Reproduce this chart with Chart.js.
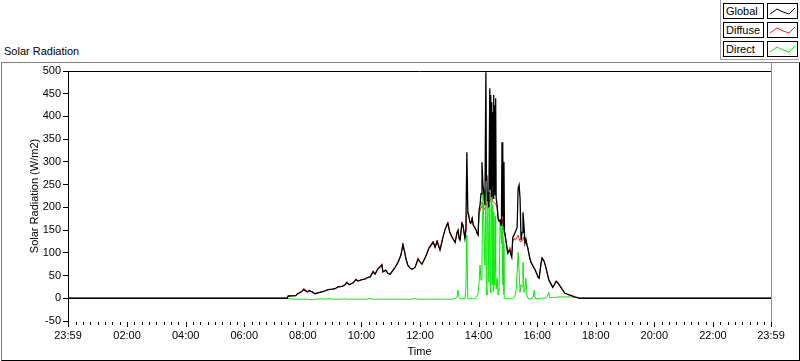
<!DOCTYPE html>
<html>
<head>
<meta charset="utf-8">
<script src="https://cdn.jsdelivr.net/npm/chart.js@4/dist/chart.umd.min.js"></script>
<style>
    body { margin: 0; width: 800px; height: 361px; position: relative; background: #fff; overflow: hidden;
           font-family: 'Liberation Sans', Arial, sans-serif; color: #000; }
    #moldura { position: absolute; left: 1px; top: 62px; width: 797px; height: 297px;
               border-left: 1px solid #808080; border-top: 1px solid #808080;
               border-right: 1px solid #000; border-bottom: 1px solid #000; }
    #titulo { position: absolute; left: 4px; top: 45px; font-size: 11px; line-height: 13px; }
    #grafico { position: absolute; left: 0; top: 0; }
    #legenda { position: absolute; left: 720px; top: 0; width: 79px; height: 60px;
               border-left: 1px solid #a0a0a0; border-bottom: 1px solid #a0a0a0; box-sizing: border-box; }
    .rotulo { position: absolute; left: 2px; width: 41px; height: 16px; box-sizing: border-box;
              border: 1px solid #000; font-size: 11px; line-height: 14px; padding-left: 2px; background: #fff; }
    .amostra { position: absolute; left: 46px; width: 31px; height: 16px; box-sizing: border-box;
               border: 1px solid #000; background: #fff; }
    .amostra svg { position: absolute; left: 0; top: 0; }
</style>
</head>
<body>
<div id="moldura"></div>
<div id="titulo">Solar Radiation</div>
<canvas id="grafico" width="800" height="361"></canvas>
<div id="legenda"></div>

<script>
// --- DADOS ---
const horas = [
    '00:00', '07:28', '07:30', '07:46', '07:48', '07:58', '08:02', '08:09', '08:13', '08:19',
    '08:25', '08:31', '08:39', '08:45', '08:52', '09:00', '09:06', '09:12', '09:20', '09:26',
    '09:30', '09:35', '09:43', '09:49', '09:53', '10:01', '10:07', '10:11', '10:18', '10:24',
    '10:28', '10:34', '10:38', '10:42', '10:44', '10:50', '10:54', '10:59', '11:05', '11:09',
    '11:15', '11:21', '11:25', '11:29', '11:31', '11:35', '11:40', '11:44', '11:50', '11:56',
    '12:00', '12:04', '12:10', '12:14', '12:18', '12:23', '12:27', '12:31', '12:35', '12:41',
    '12:47', '12:51', '12:55', '12:57', '13:01', '13:06', '13:12', '13:16', '13:18', '13:20',
    '13:22', '13:26', '13:28', '13:32',
    '13:34', '13:36', '13:38', '13:40', '13:42', '13:44', '13:47', '13:49', '13:51', '13:53',
    '13:55', '13:57', '13:59', '14:01', '14:03', '14:05', '14:07', '14:09', '14:11', '14:13',
    '14:15', '14:16', '14:17', '14:18', '14:19', '14:21', '14:23', '14:24', '14:25', '14:26',
    '14:27', '14:28', '14:29', '14:30', '14:31', '14:32', '14:33', '14:34', '14:35', '14:36',
    '14:38', '14:40', '14:42', '14:44', '14:46', '14:47', '14:48', '14:49', '14:50', '14:51',
    '14:52', '14:53', '14:54', '14:56', '14:58', '15:00', '15:02', '15:04', '15:06', '15:08',
    '15:10', '15:13', '15:15', '15:17', '15:19', '15:21', '15:23', '15:25', '15:27', '15:29',
    '15:31', '15:33', '15:35', '15:37', '15:39', '15:41', '15:43', '15:45',
    '15:47', '15:52', '15:54', '15:56', '16:00', '16:02', '16:04', '16:08', '16:10', '16:14',
    '16:16', '16:20', '16:24', '16:26', '16:32', '16:39', '16:43', '16:51', '16:57', '17:07',
    '17:17', '17:28', '23:59'
];

const radGlobal = [
    0, 0, 5, 6, 9, 15, 19, 14, 17, 14,
    10, 12, 14, 16, 19, 20, 21, 25, 26, 29,
    34, 30, 34, 41, 38, 41, 42, 45, 47, 58,
    53, 65, 69, 73, 58, 62, 55, 53, 62, 68,
    79, 95, 117, 100, 88, 73, 66, 64, 68, 86,
    80, 75, 88, 98, 110, 117, 123, 112, 125, 106,
    134, 150, 161, 165, 145, 134, 123, 145, 150, 132,
    128, 165, 161, 132,
    150, 321, 189, 182, 168, 165, 176, 161, 158, 154,
    150, 143, 139, 194, 205, 230, 299, 249, 230, 205,
    497, 260, 270, 215, 233, 200, 462, 240, 447, 225,
    431, 250, 409, 220, 447, 235, 425, 228, 440, 220,
    205, 176, 170, 172, 161, 200, 343, 180, 330, 160,
    300, 145, 140, 128, 112, 99, 104, 106, 96, 90,
    134, 140, 145, 150, 156, 242, 249, 220, 128, 145,
    189, 160, 121, 130, 117, 110, 99, 88,
    80, 70, 66, 62, 52, 46, 44, 77, 88, 82,
    75, 58, 40, 36, 24, 37, 33, 20, 11, 7,
    3, 0, 0
];

const radDifusa = [
    0, 0, 5, 6, 9, 15, 22, 14, 17, 14,
    10, 12, 14, 16, 19, 20, 21, 25, 26, 29,
    37, 30, 34, 43, 38, 41, 42, 45, 47, 61,
    53, 65, 69, 76, 58, 62, 55, 53, 62, 68,
    79, 95, 121, 100, 88, 73, 66, 64, 68, 89,
    80, 75, 88, 98, 110, 120, 126, 112, 128, 106,
    134, 150, 161, 168, 145, 134, 123, 145, 150, 132,
    128, 168, 161, 132,
    148, 185, 189, 182, 168, 165, 178, 161, 158, 154,
    150, 143, 139, 185, 192, 200, 212, 205, 198, 195,
    215, 205, 208, 200, 210, 200, 222, 215, 218, 212,
    225, 215, 215, 212, 212, 210, 210, 208, 207, 205,
    200, 176, 170, 172, 160, 170, 176, 172, 165, 158,
    150, 142, 140, 128, 112, 100, 105, 112, 100, 95,
    125, 132, 128, 130, 135, 139, 132, 125, 124, 128,
    135, 130, 121, 130, 120, 110, 99, 88,
    80, 70, 66, 62, 52, 46, 44, 77, 91, 82,
    75, 58, 40, 36, 24, 39, 33, 20, 11, 7,
    3, 0, 0
];

const radDireta = [
    0, 0, -1, -2, -2, -2, -2, -2, -3, -3,
    -2, -2, -1, -2, -1, -2, -2, -2, -2, -1,
    -2, -2, -2, -2, -2, -2, -2, -2, -1, -2,
    -2, -2, -2, -2, -2, -2, -2, -2, -2, -2,
    -2, -2, -2, -2, -2, -2, -2, -2, -1, -2,
    -2, -2, -2, -2, -2, -2, -2, -2, -2, -2,
    -2, -2, -2, -2, -2, -2, -1, 3, 18, 2,
    -1, -1, -1, -1,
    20, 139, -1, -1, -1, 0, -1, -1, -1, 0,
    2, 5, 10, 33, 73, 40, 88, 233, 150, 73,
    242, 20, 7, 180, 220, 35, 233, 20, 13, 200,
    220, 30, 205, 15, 190, 40, 29, 180, 60, 20,
    44, 7, 20, 167, 140, 120, 161, 30, 145, 120,
    10, 0, 0, -1, 0, -1, -1, 0, -1, 0,
    0, 2, 7, 20, 57, 101, 60, 13, 30, 25,
    79, 13, 20, 44, 7, 0, 0, -1,
    0, 2, 18, 0, -1, 0, 0, 0, 0, 1,
    0, 2, 13, 1, 2, 2, 3, 3, 3, 3,
    2, 0, 0
];

const series = [
    { nome: 'Global', cor: '#000000', valores: radGlobal },
    { nome: 'Diffuse', cor: '#ff2020', valores: radDifusa },
    { nome: 'Direct', cor: '#00ee00', valores: radDireta }
];

// eixo X: de 23:59 (dia anterior) até 23:59, em minutos
const inicioEixo = -1;
const fimEixo = 1439;
const passoMenor = 15;
const passoMaior = 120;

const paraMinutos = h => {
    const [hh, mm] = h.split(':').map(Number);
    return hh * 60 + mm;
};
const formatarHora = m => {
    if (m === inicioEixo || m === fimEixo) return '23:59';
    if (m % passoMaior !== 0) return '';
    return String(Math.floor(m / 60)).padStart(2, '0') + ':' + String(m % 60).padStart(2, '0');
};
const ehMaior = m => m === inicioEixo || m === fimEixo || m % passoMaior === 0;

// --- LEGENDA (estilo LabVIEW) ---
const legenda = document.getElementById('legenda');
series.forEach((s, i) => {
    const topo = 3 + i * 19;
    legenda.insertAdjacentHTML('beforeend', `
        <div class="rotulo" style="top:${topo}px">${s.nome}</div>
        <div class="amostra" style="top:${topo}px">
            <svg width="29" height="14"><polyline points="2,10 9,5 15,8 21,10 27,4"
                fill="none" stroke="${s.cor}" stroke-width="1"/></svg>
        </div>`);
});

// --- moldura do gráfico e marcas do eixo X ---
const molduraPlugin = {
    id: 'moldura',
    afterDraw(chart) {
        const { ctx, chartArea: area, scales: { x } } = chart;
        ctx.save();
        ctx.lineWidth = 1;
        ctx.strokeStyle = '#000';
        ctx.beginPath();
        ctx.moveTo(area.left, area.top + 0.5);
        ctx.lineTo(area.right, area.top + 0.5);
        ctx.stroke();

        ctx.strokeStyle = '#8c8c8c';
        ctx.beginPath();
        ctx.moveTo(Math.round(area.right) + 0.5, area.top - 9);
        ctx.lineTo(Math.round(area.right) + 0.5, area.bottom + 1);
        ctx.stroke();

        ctx.strokeStyle = '#000';
        x.ticks.forEach(t => {
            const px = Math.round(x.getPixelForValue(t.value)) + 0.5;
            ctx.beginPath();
            ctx.moveTo(px, area.bottom + 1);
            ctx.lineTo(px, area.bottom + (ehMaior(t.value) ? 6 : 4));
            ctx.stroke();
        });
        ctx.restore();
    }
};

const fonte = { family: "'Liberation Sans', Arial, sans-serif", size: 11 };

// Global por cima, depois Direct, depois Diffuse
const ordemDesenho = [0, 2, 1];

new Chart(document.getElementById('grafico'), {
    type: 'line',
    data: {
        datasets: ordemDesenho.map(i => ({
            label: series[i].nome,
            data: horas.map((h, j) => ({ x: paraMinutos(h), y: series[i].valores[j] })),
            borderColor: series[i].cor,
            borderWidth: i === 0 ? 1.3 : 1,
            pointRadius: 0,
            tension: 0,
            fill: false
        }))
    },
    plugins: [molduraPlugin],
    options: {
        responsive: false,
        animation: false,
        events: [],
        layout: { padding: { left: 0, top: 71, right: 29, bottom: 0 } },
        plugins: {
            legend: { display: false },
            tooltip: { enabled: false }
        },
        scales: {
            x: {
                type: 'linear',
                min: inicioEixo,
                max: fimEixo,
                afterBuildTicks: escala => {
                    const marcas = [{ value: inicioEixo }];
                    for (let m = passoMenor; m < fimEixo; m += passoMenor) marcas.push({ value: m });
                    marcas.push({ value: fimEixo });
                    escala.ticks = marcas;
                },
                afterFit: escala => { escala.height = 40; },
                grid: { display: false, drawTicks: false },
                border: { display: false },
                ticks: {
                    autoSkip: false,
                    maxRotation: 0,
                    padding: 8,
                    color: '#000',
                    font: fonte,
                    callback: valor => formatarHora(valor)
                },
                title: {
                    display: true,
                    text: 'Time',
                    color: '#000',
                    font: fonte,
                    padding: { top: 0, bottom: 2 }
                }
            },
            y: {
                min: -50,
                max: 500,
                afterFit: escala => { escala.width = 68; },
                grid: { drawOnChartArea: false, drawTicks: true, tickLength: 5, color: '#000' },
                border: { display: true, color: '#000' },
                ticks: {
                    stepSize: 50,
                    padding: 2,
                    color: '#000',
                    font: fonte
                },
                title: {
                    display: true,
                    text: 'Solar Radiation (W/m2)',
                    color: '#000',
                    font: fonte,
                    padding: { top: 28, bottom: 0 }
                }
            }
        }
    }
});
</script>
</body>
</html>
